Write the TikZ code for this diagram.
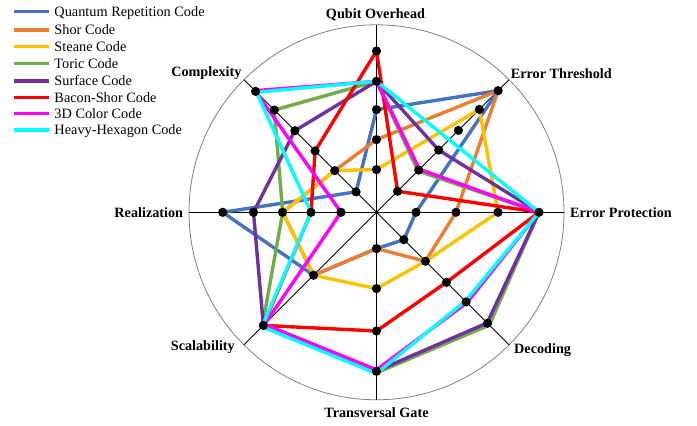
\documentclass[tikz,border=0pt]{standalone}
\usepackage{fontspec}
\setmainfont{Liberation Serif}
\definecolor{cqrc}{HTML}{4472C4}
\definecolor{cshor}{HTML}{ED7D31}
\definecolor{csteane}{HTML}{FFC000}
\definecolor{ctoric}{HTML}{70AD47}
\definecolor{csurface}{HTML}{7030A0}
\definecolor{cbacon}{HTML}{FF0000}
\definecolor{ccolor}{HTML}{FF00FF}
\definecolor{chex}{HTML}{00FFFF}
\begin{document}
\begin{tikzpicture}[x=1pt,y=1pt,
  series/.style={line width=3.4pt,line join=round},
  axisline/.style={line width=0.8pt,black},
  rim/.style={line width=0.8pt,black!50},
  tick/.style={fill=black},
  axlabel/.style={inner sep=0pt,font=\fontsize{14.2}{16}\selectfont\bfseries},
  legtext/.style={inner sep=0pt,anchor=base west,font=\fontsize{14.3}{16}\selectfont},
  legline/.style={line width=3.2pt}]
% page frame: origin at the chart centre
\useasboundingbox (-376.5,-213.7) rectangle (320.5,212.3);

% outer ring and the eight axes
\draw[rim] (0,0) circle (187.5);
\foreach \a in {90,45,0,-45,-90,-135,180,135}
  \draw[axisline] (0,0) -- (\a:187.5);

% data polygons, axis order: qubit overhead, threshold, protection,
% decoding, transversal gate, scalability, realization, complexity
\foreach \n/\c/\v in {
  qrc/cqrc/{102.7,172,39.5,38.7,36.3,89,153.8,28.9},
  shor/cshor/{72.7,172,79.5,69.2,36.3,89,93.8,59},
  steane/csteane/{42.7,145.5,121.5,69.2,76.3,89,93.8,59},
  toric/ctoric/{131,58.5,162.5,159.5,160.5,161.5,93.8,144.6},
  surface/csurface/{131,88,162.5,156.5,158.8,160,123,115.4},
  bacon/cbacon/{161.3,29.8,162.5,99,118.7,160,65.5,86.8},
  color/ccolor/{131,60.8,162.5,127.8,157.5,158.5,35.5,172},
  hex/chex/{131,102.6,162.5,125.6,161.2,161.8,65.5,169.8}}{
  \foreach \r [count=\i] in \v
    \coordinate (\n-\i) at ({135-45*\i}:\r);
  \draw[series,\c] (\n-1) -- (\n-2) -- (\n-3) -- (\n-4) -- (\n-5)
    -- (\n-6) -- (\n-7) -- (\n-8) -- cycle;
}

% scale marks on each axis
\foreach \a/\rs in {
  90/{42.7,72.7,102.7,131,161.3},
  45/{29.8,59.7,88,115.8,145.5,172},
  0/{39.5,79.5,121.5,162.5},
  -45/{38.7,69.2,99,126.7,157},
  -90/{36.3,76.3,118.7,159},
  -135/{89,160},
  180/{35.5,65.5,94,123,153.8},
  135/{28.9,59,86.8,115.4,144.6,171}}{
  \foreach \r in \rs
    \fill[tick] (\a:\r) circle (4.6);
}

% axis labels
\node[axlabel,anchor=base] (lqo) at (-1,193.8) {Qubit Overhead};
\node[axlabel,anchor=base west] (let) at (134.2,133.8) {Error Threshold};
\node[axlabel,anchor=base west] (lep) at (193.5,-5.2) {Error Protection};
\node[axlabel,anchor=base west] (ldec) at (137.5,-141.2) {Decoding};
\node[axlabel,anchor=base] (ltg) at (0,-205.4) {Transversal Gate};
\node[axlabel,anchor=base east] (lsca) at (-141.5,-138.6) {Scalability};
\node[axlabel,anchor=base east] (lrea) at (-193.2,-5) {Realization};
\node[axlabel,anchor=base east] (lcom) at (-134.8,135.5) {Complexity};

% legend
\foreach \c/\t/\y [count=\k] in {
  cqrc/Quantum Repetition Code/11.7,
  cshor/Shor Code/30,
  csteane/Steane Code/46.7,
  ctoric/Toric Code/63.3,
  csurface/Surface Code/81,
  cbacon/Bacon-Shor Code/97.7,
  ccolor/3D Color Code/113.7,
  chex/Heavy-Hexagon Code/130}{
  \coordinate (leg\k a) at (14-376.5,212.3-\y);
  \coordinate (leg\k b) at (49.3-376.5,212.3-\y);
  \draw[legline,\c] (leg\k a) -- (leg\k b);
  \node[legtext] (legt\k) at (54.3-376.5,212.3-\y-4.8) {\t};
}
\end{tikzpicture}
\end{document}
